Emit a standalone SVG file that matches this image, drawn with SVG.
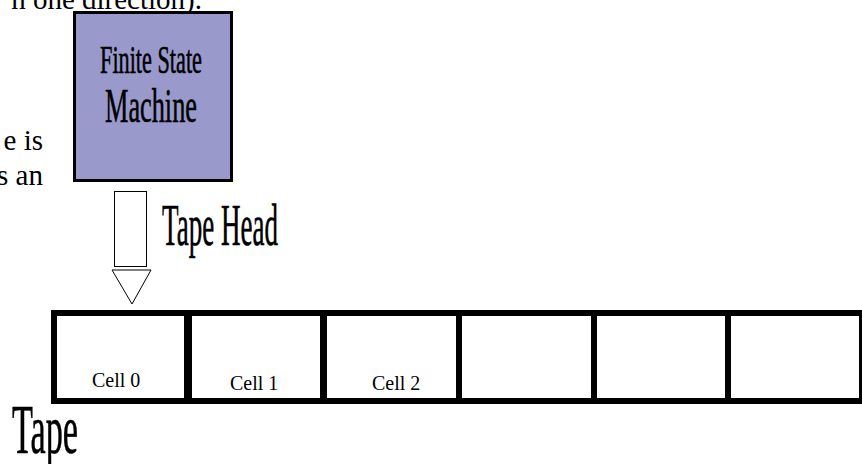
<svg xmlns="http://www.w3.org/2000/svg" width="862" height="464" viewBox="0 0 862 464">
<style>
.body{font-family:"Liberation Serif","Times New Roman",serif;font-size:29px;fill:#000}
.cond{font-family:"Liberation Serif","Times New Roman",serif;fill:#000;stroke:#000;stroke-width:0.6px}
.cell{font-family:"Liberation Serif","Times New Roman",serif;font-size:20px;fill:#000}
.bar{fill:#000}
</style>
<rect x="0" y="0" width="862" height="464" fill="#fff"/>
<g id="page-text">
<text class="body" x="202" y="9" text-anchor="end">n one direction).</text>
<text class="body" x="43" y="150" text-anchor="end">e is</text>
<text class="body" x="43" y="185" text-anchor="end">s an</text>
</g>
<g id="fsm">
<rect x="74.5" y="12.5" width="157" height="168" fill="#9999cc" stroke="#000" stroke-width="3"/>
<text class="cond" x="100" y="73" font-size="39" textLength="102" lengthAdjust="spacingAndGlyphs">Finite State</text>
<text class="cond" x="105" y="122" font-size="48" textLength="92" lengthAdjust="spacingAndGlyphs">Machine</text>
</g>
<g id="connectors">
<g id="tape-head">
<rect x="114.5" y="191.5" width="32" height="75" fill="#fff" stroke="#000" stroke-width="1"/>
<polygon points="112,270 151,270 132,304" fill="#fff" stroke="#000" stroke-width="1"/>
</g>
</g>
<g id="tape-head-label">
<text class="cond" x="162" y="245" font-size="60" textLength="116" lengthAdjust="spacingAndGlyphs">Tape Head</text>
</g>
<g id="tape">
<rect class="bar" x="51" y="310" width="811" height="6"/>
<rect class="bar" x="51" y="398" width="811" height="6"/>
<rect class="bar" x="51" y="310" width="6" height="94"/>
<g id="cell0"><rect class="bar" x="184" y="310" width="8" height="94"/><text class="cell" x="92" y="387">Cell 0</text></g>
<g id="cell1"><rect class="bar" x="320" y="310" width="7" height="94"/><text class="cell" x="230" y="390">Cell 1</text></g>
<g id="cell2"><rect class="bar" x="456" y="310" width="6" height="94"/><text class="cell" x="372" y="390">Cell 2</text></g>
<g id="cell3"><rect class="bar" x="591" y="310" width="6" height="94"/></g>
<g id="cell4"><rect class="bar" x="725" y="310" width="6" height="94"/></g>
<g id="cell5"><rect class="bar" x="859" y="310" width="3" height="94"/></g>
</g>
<g id="tape-label">
<text class="cond" x="12" y="453" font-size="70" textLength="66" lengthAdjust="spacingAndGlyphs">Tape</text>
</g>
</svg>
